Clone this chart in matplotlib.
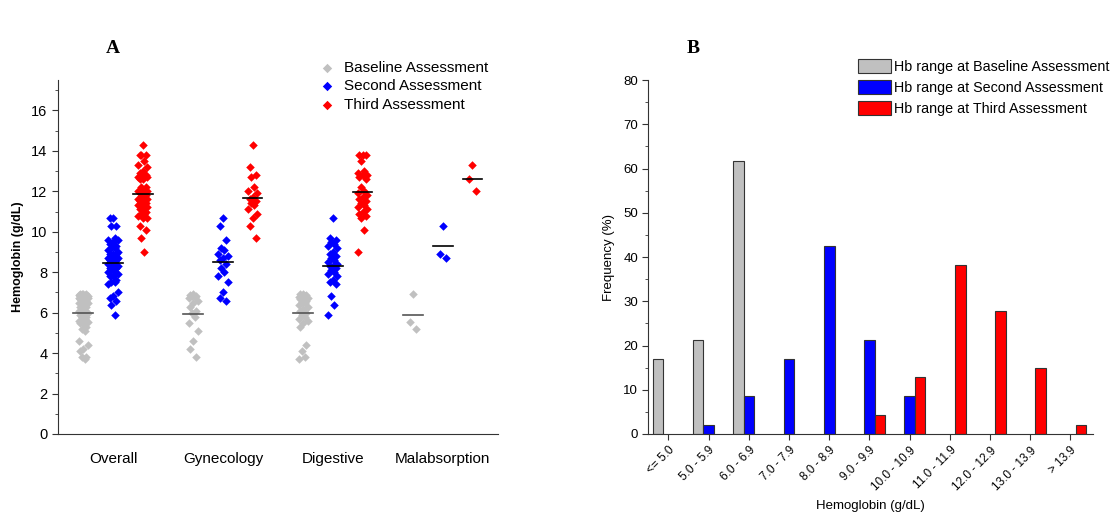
"""
Hemoglobin at baseline, second and third assessment.
A: per-patient values by group with mean bars.
B: distribution of Hb ranges (% of patients) at each assessment.
"""

import numpy as np
import matplotlib.pyplot as plt
from matplotlib.ticker import MultipleLocator

plt.rcParams["font.family"] = ["Liberation Sans", "DejaVu Sans"]

OUT_PNG = "out.png"

# ---- panel A data (g/dL) ----
groups = ["Overall", "Gynecology", "Digestive", "Malabsorption"]
series = ["Baseline Assessment", "Second Assessment", "Third Assessment"]

gyn_base = [6.9, 6.85, 6.8, 6.8, 6.7, 6.6, 6.5, 6.3, 6.1, 6.0, 5.8, 5.5,
            5.1, 4.6, 4.2, 3.8, 6.75]
gyn_second = [10.7, 10.3, 9.6, 9.2, 9.1, 8.9, 8.8, 8.7, 8.6, 8.4, 8.2, 8.0,
              7.8, 7.5, 7.0, 6.7, 6.6]
gyn_third = [14.3, 13.2, 12.8, 12.7, 12.2, 12.0, 11.9, 11.7, 11.6, 11.5,
             11.4, 11.3, 11.1, 10.9, 10.7, 10.3, 9.7]

dig_base = [6.9, 6.9, 6.85, 6.8, 6.8, 6.75, 6.7, 6.7, 6.65, 6.6, 6.55, 6.5,
            6.4, 6.3, 6.2, 6.1, 6.0, 5.9, 5.8, 5.7, 5.6, 5.5, 5.3, 4.4, 4.1,
            3.8, 3.7]
dig_second = [10.7, 9.7, 9.6, 9.5, 9.4, 9.3, 9.2, 9.0, 8.9, 8.8, 8.7, 8.6,
              8.5, 8.4, 8.3, 8.3, 8.2, 8.1, 8.0, 7.9, 7.8, 7.6, 7.5, 7.4,
              6.8, 6.4, 5.9]
dig_third = [13.8, 13.8, 13.8, 13.5, 13.0, 12.9, 12.8, 12.8, 12.7, 12.6,
             12.2, 12.0, 11.9, 11.8, 11.7, 11.6, 11.5, 11.4, 11.3, 11.2,
             11.1, 11.0, 10.9, 10.8, 10.7, 10.1, 9.0]

mal_base = [6.9, 5.55, 5.2]
mal_second = [10.3, 8.9, 8.7]
mal_third = [13.3, 12.6, 12.0]

# group means as drawn in the figure (black bars)
means_base = [5.96, 5.93, 5.97, 5.87]
means_second = [8.45, 8.50, 8.30, 9.31]
means_third = [11.88, 11.68, 11.95, 12.62]

# ---- panel B data (% of patients) ----
hb_ranges = ["<= 5.0", "5.0 - 5.9", "6.0 - 6.9", "7.0 - 7.9", "8.0 - 8.9",
             "9.0 - 9.9", "10.0 - 10.9", "11.0 - 11.9", "12.0 - 12.9",
             "13.0 - 13.9", "> 13.9"]
freq_base = [17.0, 21.3, 61.7, 0, 0, 0, 0, 0, 0, 0, 0]
freq_second = [0, 2.1, 8.5, 17.0, 42.6, 21.3, 8.5, 0, 0, 0, 0]
freq_third = [0, 0, 0, 0, 0, 4.3, 12.8, 38.3, 27.7, 14.9, 2.1]

COLORS = ["#c0c0c0", "#0000ff", "#ff0000"]


def jitter(n, step=0.014):
    # small deterministic spread so overlapping points stay visible
    pattern = np.array([0, -2, 2, -1, 1, -3, 3])
    return pattern[np.arange(n) % len(pattern)] * step


def panel_a(ax):
    base = [gyn_base + dig_base + mal_base, gyn_base, dig_base, mal_base]
    second = [gyn_second + dig_second + mal_second, gyn_second, dig_second,
              mal_second]
    third = [gyn_third + dig_third + mal_third, gyn_third, dig_third,
             mal_third]
    means = [means_base, means_second, means_third]

    offsets = [-0.27, 0.0, 0.27]
    for k, (data, lab) in enumerate(zip([base, second, third], series)):
        for g in range(len(groups)):
            vals = np.sort(np.asarray(data[g]))[::-1]
            xs = g + 1 + offsets[k] + jitter(len(vals))
            ax.scatter(xs, vals, marker="D", s=19, color=COLORS[k],
                       linewidths=0, zorder=2,
                       label=lab if g == 0 else None)
            xc = g + 1 + offsets[k]
            ax.plot([xc - 0.09, xc + 0.09], [means[k][g]] * 2,
                    color="#555555" if k == 0 else "black", lw=1.2, zorder=3)

    ax.set_xlim(0.5, 4.5)
    ax.set_ylim(0, 17.5)
    ax.set_xticks(range(1, len(groups) + 1))
    ax.set_xticklabels(groups, fontsize=11)
    ax.tick_params(axis="x", length=0, pad=13)
    ax.yaxis.set_major_locator(MultipleLocator(2))
    ax.yaxis.set_minor_locator(MultipleLocator(1))
    ax.tick_params(axis="y", labelsize=10.5, length=4, color="#333333")
    ax.tick_params(axis="y", which="minor", length=2.5, color="#333333")
    ax.set_ylabel("Hemoglobin (g/dL)", fontsize=9, fontweight="bold",
                  labelpad=5)
    for s in ["top", "right"]:
        ax.spines[s].set_visible(False)
    for s in ["left", "bottom"]:
        ax.spines[s].set_color("#333333")

    ax.legend(loc="upper left", bbox_to_anchor=(0.595, 1.055), frameon=False,
              fontsize=11, handlelength=0.9, handletextpad=0.7,
              labelspacing=0.3, borderpad=0, borderaxespad=0,
              scatterpoints=1, markerscale=1.1)
    ax.text(0.125, 1.09, "A", transform=ax.transAxes, ha="center",
            va="center", fontsize=14, fontweight="bold",
            family="Liberation Serif")


def panel_b(ax):
    x = np.arange(len(hb_ranges))
    width = 0.26
    labels = ["Hb range at Baseline Assessment",
              "Hb range at Second Assessment",
              "Hb range at Third Assessment"]
    for k, (vals, lab) in enumerate(zip([freq_base, freq_second, freq_third],
                                        labels)):
        vals = np.asarray(vals, dtype=float)
        keep = vals > 0
        ax.bar(x[keep] + (k - 1) * width, vals[keep], width=width,
               color=COLORS[k], edgecolor="#333333", linewidth=0.8,
               label=lab, zorder=2)

    ax.set_xlim(-0.5, 10.55)
    ax.set_ylim(0, 80)
    ax.set_xticks(x)
    ax.set_xticklabels(hb_ranges, rotation=45, ha="right",
                       rotation_mode="anchor", fontsize=8)
    ax.yaxis.set_major_locator(MultipleLocator(10))
    ax.yaxis.set_minor_locator(MultipleLocator(5))
    ax.tick_params(axis="both", labelsize=9.5, length=4, color="#333333")
    ax.tick_params(axis="x", labelsize=8.5)
    ax.tick_params(axis="y", which="minor", length=2.5, color="#333333")
    ax.set_xlabel("Hemoglobin (g/dL)", fontsize=9.5, labelpad=5)
    ax.set_ylabel("Frequency (%)", fontsize=9.5, labelpad=6)
    for s in ["top", "right"]:
        ax.spines[s].set_visible(False)
    for s in ["left", "bottom"]:
        ax.spines[s].set_color("#333333")

    ax.legend(loc="upper left", bbox_to_anchor=(0.473, 1.06), frameon=False,
              fontsize=10.3, handlelength=2.25, handleheight=1.1,
              handletextpad=0.25, labelspacing=0.45, borderpad=0,
              borderaxespad=0)
    ax.text(0.1, 1.09, "B", transform=ax.transAxes, ha="center",
            va="center", fontsize=14, fontweight="bold",
            family="Liberation Serif")


def main():
    fig = plt.figure(figsize=(11.16, 5.13), dpi=100)
    axA = fig.add_axes([0.052, 0.154, 0.394, 0.690])
    axB = fig.add_axes([0.581, 0.154, 0.398, 0.690])
    panel_a(axA)
    panel_b(axB)
    fig.savefig(OUT_PNG, dpi=100)
    plt.close(fig)


if __name__ == "__main__":
    main()
